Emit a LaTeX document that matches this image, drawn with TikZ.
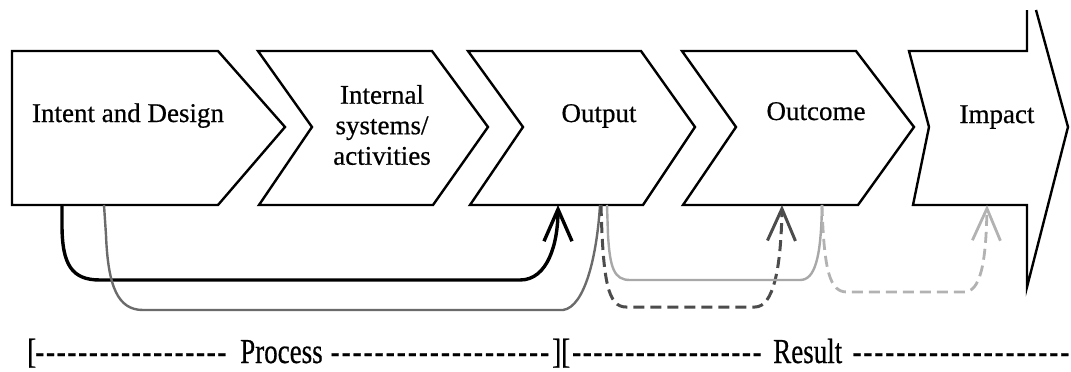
\documentclass[tikz,border=0pt]{standalone}
\usepackage{fontspec}
\setmainfont{Liberation Serif}
\newfontface\heavyserif{Liberation Serif}[FakeBold=0.6]
\usepackage{graphicx}
\usetikzlibrary{arrows.meta}
\newcommand\dashrun[1]{\hbox to #1pt{\xleaders\hbox{-\kern1.6pt}\hfill}}
\newcommand\tallbox[1]{\scalebox{1}[1.3]{#1}}
\begin{document}
\begin{tikzpicture}[x=1pt,y=-1pt,
  shapeline/.style={draw=black,line width=2.4pt,line join=miter},
  lbl/.style={inner sep=0pt,font=\heavyserif\fontsize{27}{30.5}\selectfont},
  btm/.style={inner sep=0pt,anchor=base west,font=\heavyserif\fontsize{27}{30}\selectfont},
  barb/.style={-{Straight Barb[length=32pt,width=28pt]}},
  conblack/.style={draw=black,line width=3.4pt},
  congray/.style={draw=black!58,line width=2.4pt},
  condash/.style={draw=black!70,line width=3pt,dash pattern=on 11pt off 6pt},
  conlight/.style={draw=black!34,line width=2.4pt},
  conlightdash/.style={draw=black!30,line width=2.8pt,dash pattern=on 11pt off 6pt}]
\useasboundingbox (0,0) rectangle (1071,372);

% chevron shapes
\draw[shapeline] (12,51) -- (218,51) -- (285,127) -- (218,205) -- (12,205) -- cycle;
\draw[shapeline] (258,51) -- (432,51) -- (488,127) -- (433,205) -- (259,205) -- (312,127) -- cycle;
\draw[shapeline] (468,51) -- (641,51) -- (695,127) -- (643,205) -- (470,205) -- (523,127) -- cycle;
\draw[shapeline] (682,51) -- (856,51) -- (914,127) -- (858,205) -- (683,205) -- (736,127) -- cycle;
\draw[shapeline] (1027,10) -- (1027,51) -- (909,51) -- (929,127) -- (913,205) -- (1027,205) -- (1027,287) -- (1068,127) -- (1036,10);

% labels
\node[lbl,anchor=base] (intent) at (128,122) {Intent and Design};
\node[lbl,align=center,anchor=center] (internal) at (382,125) {Internal\\systems/\\activities};
\node[lbl,anchor=base] (output) at (599,122) {Output};
\node[lbl,anchor=base] (outcome) at (816,120) {Outcome};
\node[lbl,anchor=base] (impact) at (997,123) {Impact};

% connector end points on the bottom edges
\coordinate (idA) at (62,205);
\coordinate (idB) at (104,205);
\coordinate (opA) at (558,205);
\coordinate (opB) at (600,205);
\coordinate (opC) at (601,205);
\coordinate (opD) at (607,205);
\coordinate (ocA) at (782,205);
\coordinate (ocB) at (822,205);
\coordinate (imA) at (987,205);

% connectors
\draw[conblack,barb] (idA) -- ++(0,20) .. controls +(0,40) and +(-28,0) .. (100,280)
  -- (520,280) .. controls +(28,0) and +(0,38) .. (opA);
\draw[congray] (idB) -- (106,235) .. controls (108,287) and (118,310) .. (143,310)
  -- (563,310) .. controls (585,307) and (597,255) .. (opB);
\draw[condash,barb] (opC) .. controls (603,282) and (608,307) .. (626,307)
  -- (755,307) .. controls (773,307) and (781,270) .. (ocA);
\draw[conlight] (opD) -- (608,235) .. controls (610,268) and (614,280) .. (630,280)
  -- (800,280) .. controls (815,280) and (821,258) .. (ocB);
\draw[conlightdash,barb] (ocB) .. controls (824,272) and (830,292) .. (847,292)
  -- (964,292) .. controls (980,292) and (986,265) .. (imA);

% bottom caption
\node[btm] (brL) at (27,363) {\tallbox{[}};
\node[btm] (d1) at (35,363) {\tallbox{\dashrun{193}}};
\node[btm] (proc) at (240,363) {\tallbox{Process}};
\node[btm] (d2) at (330,363) {\tallbox{\dashrun{221}}};
\node[btm] (brM) at (552,363) {\tallbox{][}};
\node[btm] (d3) at (572,363) {\tallbox{\dashrun{191}}};
\node[btm] (res) at (773,363) {\tallbox{Result}};
\node[btm] (d4) at (852,363) {\tallbox{\dashrun{219}}};
\end{tikzpicture}
\end{document}
